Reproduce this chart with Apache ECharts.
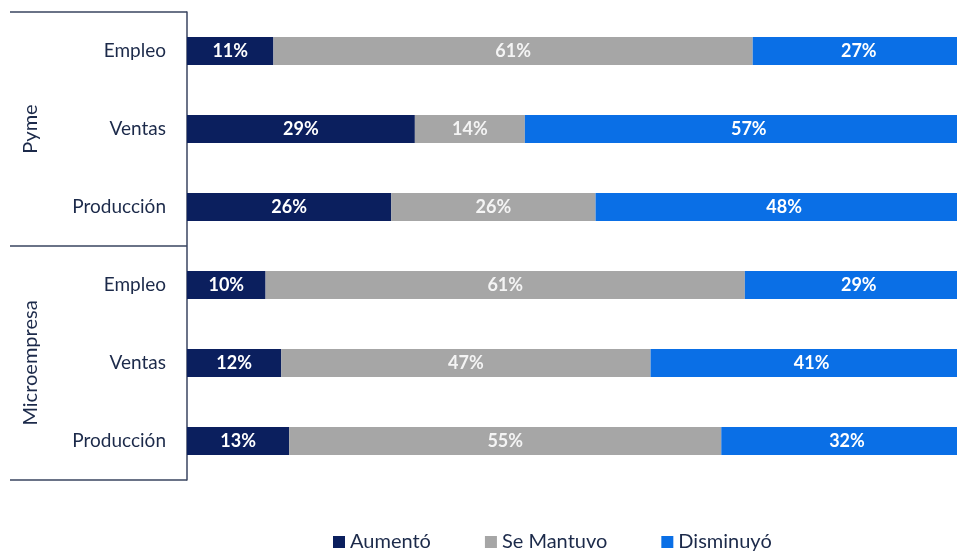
<!DOCTYPE html>
<html>
<head>
<meta charset="utf-8">
<script src="https://cdn.jsdelivr.net/npm/echarts@6/dist/echarts.min.js"></script>
<style>html,body{margin:0;padding:0;background:#fff}#c{width:957px;height:557px}</style>
</head>
<body>
<div id="c"></div>
<script>
const categories = ['Empleo', 'Ventas', 'Producción', 'Empleo', 'Ventas', 'Producción'];
const groups = ['Pyme', 'Microempresa'];
const aumento = [11, 29, 26, 10, 12, 13];
const seMantuvo = [61, 14, 26, 61, 47, 55];
const disminuyo = [27, 57, 48, 29, 41, 32];
const seriesNames = ['Aumentó', 'Se Mantuvo', 'Disminuyó'];

const FONT = 'Lato, "Open Sans", sans-serif';
const chart = echarts.init(document.getElementById('c'));
const labelCfg = (color) => ({
  show: true, position: 'inside', formatter: '{c}%',
  color: color, fontWeight: 'bold', fontSize: 18, fontFamily: FONT
});
chart.setOption({
  animation: false,
  textStyle: { fontFamily: FONT },
  grid: { left: 187, top: 12, height: 468, right: 0 },
  xAxis: { type: 'value', min: 0, max: 98, show: false },
  yAxis: [
    {
      type: 'category', data: categories, inverse: true,
      axisLine: { show: true, lineStyle: { color: '#3a4560', width: 1.5 } },
      axisTick: { show: false },
      axisLabel: { color: '#1c2a4a', fontSize: 19, margin: 21, fontFamily: FONT }
    },
    {
      type: 'category', data: groups, inverse: true, position: 'left',
      axisLine: { show: false },
      axisTick: { show: true, length: 177, lineStyle: { color: '#3a4560', width: 1.5 } },
      axisLabel: { color: '#1c2a4a', fontSize: 20, rotate: 90, margin: 146, fontFamily: FONT }
    }
  ],
  legend: {
    bottom: 0, left: 328, itemWidth: 12, itemHeight: 12, itemGap: 54,
    icon: 'rect',
    textStyle: { color: '#1c2a4a', fontSize: 20, fontFamily: FONT },
    data: seriesNames
  },
  series: [
    { name: seriesNames[0], type: 'bar', stack: 't', data: aumento, barWidth: 28, clip: false,
      itemStyle: { color: '#0b1f5e' }, label: labelCfg('#ffffff') },
    { name: seriesNames[1], type: 'bar', stack: 't', data: seMantuvo, barWidth: 28, clip: false,
      itemStyle: { color: '#a6a6a6' }, label: labelCfg('#f4f4f4') },
    { name: seriesNames[2], type: 'bar', stack: 't', data: disminuyo, barWidth: 28, clip: false,
      itemStyle: { color: '#0a6fe6' }, label: labelCfg('#ffffff') }
  ]
});
</script>
</body>
</html>
